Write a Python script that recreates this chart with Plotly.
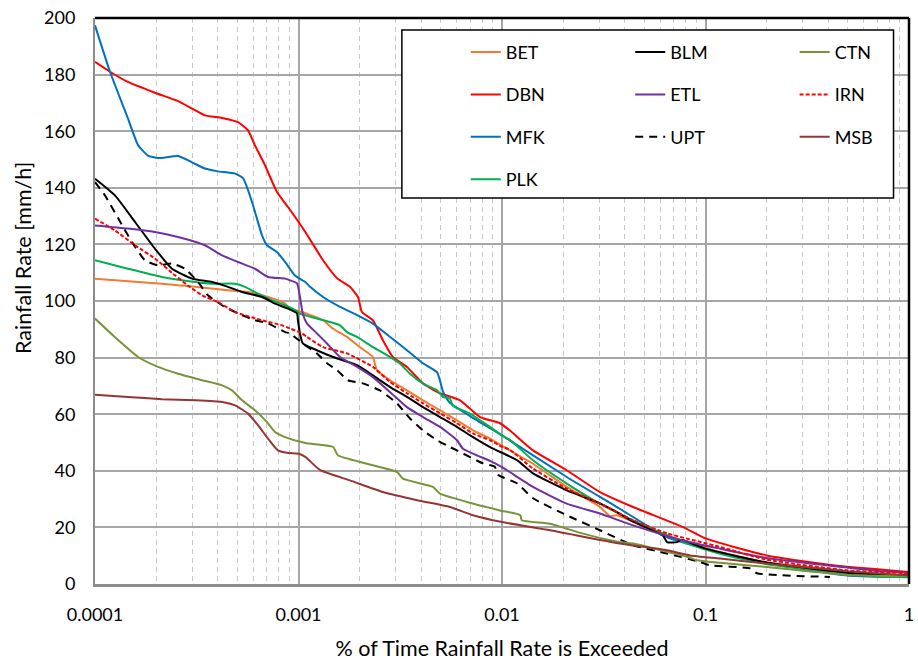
import plotly.graph_objects as go

# Exceedance curves: % of time (x) vs rainfall rate in mm/h (y), one pair of lists per station
bet_x = [1e-4, 2.13e-4, 3.10e-4, 4.50e-4, 5.65e-4, 7.08e-4, 8.59e-4, 9.08e-4, 1.04e-3, 1.10e-3, 1.32e-3,
         1.48e-3, 1.73e-3, 2.0e-3, 2.32e-3, 2.43e-3, 2.82e-3, 3.41e-3, 4.09e-3, 4.96e-3, 6.01e-3, 7.20e-3,
         8.73e-3, 0.0109, 0.0142, 0.0208, 0.0303, 0.034, 0.0367, 0.04, 0.0647, 0.118, 0.2, 0.496, 0.5, 0.697, 1.0]
bet_y = [107.9, 106.1, 105.0, 103.8, 103.2, 101.4, 99.1, 97.3, 96.1, 95.5, 93.2,
         90.2, 87.3, 83.7, 80.2, 75.5, 72.0, 68.4, 64.9, 61.4, 57.8, 54.3,
         51.4, 47.2, 42.5, 34.3, 27.2, 24.0, 24.3, 23.3, 17.2, 11.3, 7.6, 4.2, 3.0, 3.0, 3.4]

blm_x = [1e-4, 1.25e-4, 1.57e-4, 1.97e-4, 2.39e-4, 3.0e-4, 3.76e-4, 4.50e-4, 5.28e-4, 6.62e-4, 7.67e-4,
         8.88e-4, 9.83e-4, 9.94e-4, 1.017e-3, 1.05e-3, 1.23e-3, 1.48e-3, 1.94e-3, 2.32e-3, 2.82e-3, 3.41e-3,
         4.09e-3, 4.96e-3, 6.01e-3, 7.20e-3, 8.73e-3, 0.0106, 0.0119, 0.0142, 0.0208, 0.0303, 0.0367, 0.0441,
         0.062, 0.0647, 0.0724, 0.076, 0.1, 0.2, 0.5, 1.0]
blm_y = [143.2, 137.4, 128.0, 118.5, 111.4, 107.9, 106.7, 105.0, 103.2, 101.4, 99.1,
         97.3, 95.6, 93.0, 88.5, 85.0, 82.6, 80.2, 77.3, 73.7, 69.6, 66.1,
         62.5, 59.0, 55.5, 51.9, 48.4, 45.5, 43.7, 39.1, 33.1, 28.5, 25.4, 22.0,
         17.0, 14.8, 14.8, 15.6, 12.5, 7.6, 4.0, 3.0]

ctn_x = [1e-4, 1.25e-4, 1.63e-4, 2.04e-4, 2.56e-4, 3.36e-4, 4.21e-4, 4.71e-4, 5.28e-4, 6.11e-4, 7.0e-4,
         7.67e-4, 8.59e-4, 1.08e-3, 1.48e-3, 1.56e-3, 2.17e-3, 3.05e-3, 3.26e-3, 4.58e-3, 4.96e-3, 6.73e-3,
         9.78e-3, 0.0123, 0.0125, 0.0172, 0.025, 0.038, 0.0441, 0.0839, 0.0908, 0.118, 0.2, 0.5, 1.0]
ctn_y = [93.8, 87.3, 80.2, 76.7, 74.3, 72.0, 70.2, 68.4, 64.9, 61.4, 57.2,
         53.7, 51.9, 49.8, 48.4, 45.5, 42.5, 39.6, 37.2, 34.3, 31.9, 29.0,
         26.0, 24.3, 22.5, 21.3, 17.8, 14.8, 14.3, 9.3, 8.4, 7.5, 6.0, 3.2, 2.8]

dbn_x = [1e-4, 1.185e-4, 1.45e-4, 1.97e-4, 2.56e-4, 3.0e-4, 3.47e-4, 4.21e-4, 5.04e-4, 5.65e-4, 6.11e-4,
         6.84e-4, 7.84e-4, 8.88e-4, 1.08e-3, 1.32e-3, 1.55e-3, 1.79e-3, 1.96e-3, 2.05e-3, 2.32e-3, 2.60e-3,
         2.91e-3, 3.41e-3, 4.09e-3, 4.96e-3, 6.22e-3, 7.80e-3, 9.78e-3, 0.0109, 0.0142, 0.0208, 0.0303,
         0.0441, 0.0775, 0.1, 0.2, 0.424, 1.0]
dbn_y = [184.5, 181.0, 177.4, 173.6, 170.6, 168.0, 165.6, 164.7, 163.2, 160.3, 155.0,
         148.0, 138.5, 133.2, 124.4, 114.4, 108.0, 105.0, 101.4, 96.1, 93.2, 86.1,
         80.2, 76.7, 70.9, 67.4, 64.9, 59.0, 56.8, 54.3, 47.2, 40.2, 32.5,
         27.2, 20.1, 16.1, 10.1, 6.6, 4.2]

etl_x = [1e-4, 1.45e-4, 1.97e-4, 2.56e-4, 3.47e-4, 4.21e-4, 5.04e-4, 6.11e-4, 7.08e-4, 8.59e-4, 9.08e-4,
         9.83e-4, 1.017e-3, 1.05e-3, 1.10e-3, 1.23e-3, 1.38e-3, 1.60e-3, 1.94e-3, 2.32e-3, 2.82e-3, 3.41e-3,
         4.09e-3, 4.96e-3, 6.01e-3, 6.43e-3, 8.73e-3, 0.01, 0.0142, 0.0208, 0.0303, 0.0441, 0.0775, 0.118,
         0.2, 0.665, 1.0]
etl_y = [126.7, 125.6, 124.4, 122.6, 119.7, 116.1, 113.8, 111.4, 108.5, 107.9, 107.3,
         106.2, 101.4, 95.5, 92.1, 88.6, 85.0, 80.2, 76.7, 73.1, 67.8, 62.5,
         59.0, 55.5, 50.8, 47.8, 43.5, 41.3, 34.3, 28.4, 24.9, 20.7, 15.4, 12.5,
         9.2, 4.8, 4.0]

irn_x = [1e-4, 1.25e-4, 1.57e-4, 1.97e-4, 2.47e-4, 2.86e-4, 3.36e-4, 4.02e-4, 4.88e-4, 6.62e-4, 8.30e-4,
         9.08e-4, 1.04e-3, 1.10e-3, 1.32e-3, 1.73e-3, 2.32e-3, 2.82e-3, 3.41e-3, 4.09e-3, 4.96e-3, 6.01e-3,
         7.20e-3, 8.73e-3, 0.01, 0.0109, 0.0142, 0.0208, 0.0303, 0.0441, 0.0647, 0.118, 0.2, 0.5, 1.0]
irn_y = [129.1, 125.0, 119.7, 115.0, 109.1, 105.5, 102.0, 99.6, 96.1, 93.2, 91.4,
         90.3, 88.6, 87.3, 83.7, 81.5, 76.7, 71.4, 67.4, 63.8, 60.3, 56.8,
         53.2, 50.8, 48.5, 47.5, 40.8, 33.7, 28.4, 22.5, 17.9, 13.1, 8.6, 4.8, 3.8]

mfk_x = [1e-4, 1.185e-4, 1.45e-4, 1.63e-4, 1.82e-4, 2.04e-4, 2.56e-4, 3.0e-4, 3.47e-4, 4.02e-4, 4.88e-4,
         5.34e-4, 5.91e-4, 6.62e-4, 7.0e-4, 7.84e-4, 8.59e-4, 9.61e-4, 1.08e-3, 1.14e-3, 1.32e-3, 1.60e-3,
         1.94e-3, 2.32e-3, 2.82e-3, 3.41e-3, 4.09e-3, 4.80e-3, 5.13e-3, 5.55e-3, 7.54e-3, 0.01, 0.0208,
         0.0367, 0.0647, 0.0839, 0.118, 0.2, 0.5, 1.0]
mfk_y = [197.4, 181.0, 164.6, 155.0, 151.4, 150.5, 151.2, 149.0, 146.8, 145.8, 145.0,
         143.4, 135.0, 123.2, 119.7, 117.3, 113.8, 109.0, 106.7, 105.0, 101.4, 97.9,
         95.0, 92.0, 87.3, 82.6, 78.0, 74.8, 68.0, 64.0, 57.8, 52.5, 37.8,
         27.2, 16.5, 14.0, 11.0, 7.4, 3.0, 2.4]

upt_x = [1e-4, 1.12e-4, 1.30e-4, 1.52e-4, 1.76e-4, 2.04e-4, 2.39e-4, 2.77e-4, 3.21e-4, 3.59e-4, 4.21e-4,
         5.04e-4, 6.11e-4, 7.08e-4, 8.59e-4, 9.08e-4, 1.05e-3, 1.23e-3, 1.38e-3, 1.55e-3, 1.75e-3, 2.07e-3,
         2.51e-3, 3.05e-3, 3.53e-3, 4.09e-3, 4.80e-3, 5.55e-3, 6.01e-3, 8.07e-3, 9.2e-3, 9.6e-3, 0.0119,
         0.0142, 0.0208, 0.0303, 0.0441, 0.0647, 0.094, 0.105, 0.166, 0.179, 0.409]
upt_y = [142.0, 137.3, 129.2, 120.8, 114.4, 112.6, 113.2, 111.4, 106.7, 102.0, 98.5,
         95.6, 93.2, 92.1, 89.0, 88.6, 85.0, 81.5, 78.0, 75.5, 72.0, 70.9,
         68.4, 63.8, 58.5, 54.3, 50.8, 48.4, 47.2, 42.6, 41.5, 38.5, 35.5,
         30.3, 24.3, 19.0, 13.7, 10.8, 7.8, 6.6, 5.5, 3.8, 2.5]

msb_x = [1e-4, 1.45e-4, 2.13e-4, 3.10e-4, 4.21e-4, 4.88e-4, 5.65e-4, 6.32e-4, 7.08e-4, 7.93e-4, 8.88e-4,
         9.94e-4, 1.08e-3, 1.28e-3, 1.79e-3, 2.60e-3, 3.82e-3, 5.55e-3, 7.20e-3, 0.01, 0.0172, 0.038,
         0.0647, 0.0839, 0.118, 0.2, 0.5, 1.0]
msb_y = [66.9, 66.1, 65.3, 64.9, 64.3, 63.1, 60.2, 56.1, 51.4, 47.2, 46.3,
         46.1, 44.9, 40.2, 36.6, 32.5, 29.6, 27.2, 24.3, 21.9, 19.0, 14.3,
         11.9, 10.1, 9.0, 7.2, 4.5, 3.0]

plk_x = [1e-4, 1.45e-4, 2.13e-4, 3.10e-4, 3.76e-4, 4.88e-4, 5.46e-4, 6.32e-4, 7.41e-4, 8.59e-4, 9.94e-4,
         1.017e-3, 1.23e-3, 1.60e-3, 1.73e-3, 1.94e-3, 2.32e-3, 2.82e-3, 3.15e-3, 3.53e-3, 4.09e-3, 4.80e-3,
         5.13e-3, 5.55e-3, 5.74e-3, 6.96e-3, 8.73e-3, 0.01, 0.0109, 0.0142, 0.0208, 0.0303, 0.0441, 0.0775,
         0.118, 0.2, 0.745, 1.0]
plk_y = [114.4, 111.4, 108.5, 106.7, 106.1, 106.1, 105.0, 102.6, 100.2, 98.5, 96.1,
         95.5, 93.8, 91.4, 89.0, 87.3, 83.7, 80.2, 77.9, 74.3, 70.8, 68.4,
         66.1, 65.5, 63.0, 60.2, 55.5, 52.5, 51.0, 43.7, 35.5, 28.4, 22.5, 14.8,
         10.7, 7.0, 2.5, 2.5]

x_tick_vals = [0.0001, 0.001, 0.01, 0.1, 1]
x_tick_text = ["0.0001", "0.001", "0.01", "0.1", "1"]
y_tick_vals = [0, 20, 40, 60, 80, 100, 120, 140, 160, 180, 200]

# name, x, y, colour, dash, legend column
series = [
    ("BET", bet_x, bet_y, "#ED7D31", "solid", "legend"),
    ("DBN", dbn_x, dbn_y, "#FF0000", "solid", "legend"),
    ("MFK", mfk_x, mfk_y, "#0070C0", "solid", "legend"),
    ("PLK", plk_x, plk_y, "#00B050", "solid", "legend"),
    ("BLM", blm_x, blm_y, "#000000", "solid", "legend2"),
    ("ETL", etl_x, etl_y, "#7030A0", "solid", "legend2"),
    ("UPT", upt_x, upt_y, "#000000", "8px,6px", "legend2"),
    ("CTN", ctn_x, ctn_y, "#77933C", "solid", "legend3"),
    ("IRN", irn_x, irn_y, "#FF0000", "4px,2px", "legend3"),
    ("MSB", msb_x, msb_y, "#943634", "solid", "legend3"),
]

FONT = "Lato, 'Open Sans', sans-serif"

fig = go.Figure()
for name, xs, ys, color, dash, leg in series:
    fig.add_trace(go.Scatter(
        x=xs, y=ys, name=name, mode="lines", legend=leg, legendgroup=name,
        line=dict(color=color, width=2, dash=dash, shape="spline", smoothing=0.5),
    ))

grid_major = "#A6A6A6"
legend_common = dict(
    bgcolor="rgba(0,0,0,0)", borderwidth=0, tracegroupgap=16,
    font=dict(family=FONT, size=18, color="#000000"),
    xanchor="left", yanchor="top", orientation="v",
)

fig.update_layout(
    width=918, height=661,
    margin=dict(l=95, r=9, t=18, b=77, autoexpand=False),
    paper_bgcolor="white", plot_bgcolor="white",
    font=dict(family=FONT, size=18, color="#000000"),
    showlegend=True,
    legend=dict(x=0.4555, y=0.972, **legend_common),
    legend2=dict(x=0.6575, y=0.972, **legend_common),
    legend3=dict(x=0.8595, y=0.972, **legend_common),
    xaxis=dict(
        type="log", range=[-4, 0], automargin=False,
        tickvals=x_tick_vals, ticktext=x_tick_text,
        showgrid=True, gridcolor=grid_major, gridwidth=1.5,
        minor=dict(showgrid=True, gridcolor="#C9C9C9", griddash="5px,4px", gridwidth=1, dtick="D1"),
        showline=True, linecolor="#8C8C8C", linewidth=3,
        ticks="", ticklabelstandoff=12, zeroline=False,
        title=dict(text="% of Time Rainfall Rate is Exceeded", standoff=20,
                   font=dict(family=FONT, size=21.5)),
    ),
    yaxis=dict(
        range=[0, 200], tickvals=y_tick_vals, automargin=False,
        showgrid=True, gridcolor=grid_major, gridwidth=1.5,
        showline=True, linecolor="#8C8C8C", linewidth=2,
        ticks="", ticklabelstandoff=14, zeroline=False,
    ),
    annotations=[
        dict(text="Rainfall Rate [mm/h]", xref="paper", yref="paper", x=-0.0885, y=0.576,
             textangle=-90, showarrow=False, xanchor="center", yanchor="middle",
             font=dict(family=FONT, size=21.5, color="#000000")),
    ],
    shapes=[
        # black frame on the top and right of the plot area
        dict(type="line", xref="x domain", yref="y domain", x0=0, x1=1, y0=1, y1=1,
             line=dict(color="#000000", width=2.5), layer="above"),
        dict(type="line", xref="x domain", yref="y domain", x0=1, x1=1, y0=0, y1=1,
             line=dict(color="#000000", width=2.5), layer="above"),
        # legend box
        dict(type="rect", xref="paper", yref="paper", x0=0.377, x1=0.981, y0=0.682, y1=0.979,
             line=dict(color="#000000", width=1.5), fillcolor="white", layer="above"),
    ],
)

fig.write_html("out.html")
